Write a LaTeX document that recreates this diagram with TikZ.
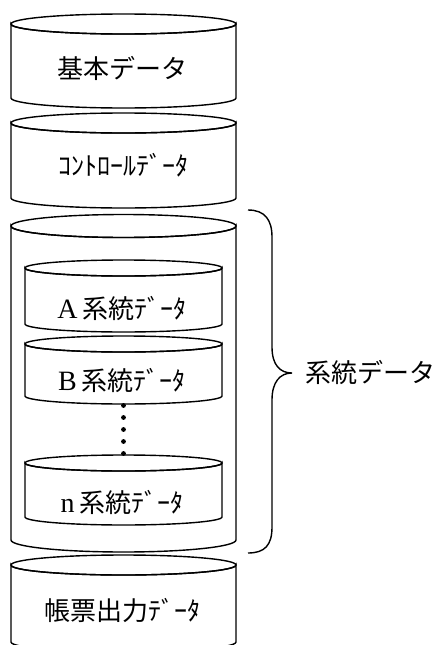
\documentclass[tikz,border=0pt]{standalone}
\usepackage{fontspec}
\setmainfont{Liberation Serif}
\newfontfamily\cjk{Noto Sans CJK JP}
\newcommand\latinlet[1]{{\rmfamily\fontsize{28}{30}\selectfont #1}}
\tikzset{
  outline/.style={draw=black, line width=1.4pt, fill=white},
  lbl/.style={inner sep=0pt, font=\cjk\fontsize{26}{30}\selectfont},
  dotmark/.style={fill=black, draw=none}
}
% \drum{cx}{top}{bottom}{rx}{ry top}{ry bottom}
\newcommand\drum[6]{%
  \path[outline] (#1-#4,#2) -- (#1-#4,#3)
    arc[start angle=180, end angle=0, x radius=#4, y radius=#6]
    -- (#1+#4,#2) arc[start angle=0, end angle=180, x radius=#4, y radius=#5] -- cycle;
  \draw[line width=1.4pt] (#1,#2) ellipse[x radius=#4, y radius=#5];
}
\begin{document}
\begin{tikzpicture}[x=1pt,y=-1pt]
\useasboundingbox (0,0) rectangle (444,645);
% outer cylinders
\drum{123.5}{24}{98}{112.5}{10}{10}
\drum{123.5}{123}{198}{112.5}{10}{10}
\drum{123.5}{226}{540}{112.5}{11.5}{12}
\drum{123.5}{565}{642}{112.5}{10}{10}
% inner cylinders
\drum{123.5}{268}{324}{98.5}{8}{8}
\drum{123.5}{344}{396}{98.5}{8}{8}
\drum{123.5}{463}{517}{98.5}{8}{8}
% dots
\foreach \yy in {405.5,417.5,429.5,441.5,453.5}
  \fill[dotmark] (123.5,\yy) circle[radius=2.4];
% labels
\node[lbl] (kihon) at (122,68) {基本データ};
\node[lbl] (control) at (123,165) {ｺﾝﾄﾛｰﾙﾃﾞｰﾀ};
\node[lbl] (sysA) at (122,308) {\latinlet{A}\hspace{5pt}系統ﾃﾞｰﾀ};
\node[lbl] (sysB) at (122,380) {\latinlet{B}\hspace{5pt}系統ﾃﾞｰﾀ};
\node[lbl] (sysN) at (122,502) {\latinlet{n}\hspace{5pt}系統ﾃﾞｰﾀ};
\node[lbl] (report) at (122,610) {帳票出力ﾃﾞｰﾀ};
% brace
\draw[line width=1.4pt] (248,210) .. controls (265,210) and (272,220) .. (272,237)
  -- (272,347) .. controls (272,365) and (280,373) .. (292,373)
  .. controls (280,373) and (272,382) .. (272,400)
  -- (272,527) .. controls (272,545) and (265,553) .. (248,553);
\node[lbl, anchor=west] (sys) at (305,373) {系統データ};
\end{tikzpicture}
\end{document}
